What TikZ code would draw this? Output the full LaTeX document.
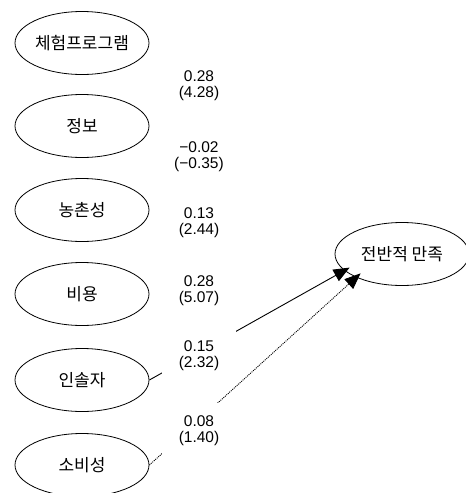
\documentclass[tikz,border=0pt]{standalone}
\usepackage{fontspec}
\setmainfont{Noto Sans CJK KR}
\newfontfamily\numfont{Liberation Sans}
\usetikzlibrary{shapes.geometric,arrows.meta}

\begin{document}
\begin{tikzpicture}[x=1pt,y=-1pt,
        factor/.style={ellipse,draw,line width=0.8pt,minimum width=134pt,minimum height=63pt,inner sep=0pt,font=\fontsize{17}{19}\selectfont},
        coef/.style={fill=white,align=center,inner sep=0pt,minimum width=74pt,minimum height=56pt,font=\numfont\fontsize{15.5}{16}\selectfont},
        link/.style={line width=0.9pt,shorten >=-6pt,-{Triangle[length=16pt,width=13pt]}}]
    \useasboundingbox (0,0) rectangle (466,493);
    % Factor ellipses
    \foreach \txt/\y [count=\i] in {체험프로그램/43,정보/126,농촌성/210,비용/294,인솔자/380,소비성/465} {\node[factor] (F\i) at (82,\y) {\txt};}
    % Outcome ellipse
    \node[factor] (Y) at (402,254) {전반적 만족};
    % Paths to outcome
    \draw[link] (F5.east) -- (Y.196);
    \draw[link,dash pattern=on 1pt off 1pt] (F6.east) -- (Y.207);
    % Coefficients with t values
    \foreach \y/\b/\t [count=\i] in {86/0.28/4.28,157/−0.02/−0.35,223/0.13/2.44,291/0.28/5.07,356/0.15/2.32,431/0.08/1.40} {\node[coef] (C\i) at (199,\y) {\b\\(\t)};}
\end{tikzpicture}
\end{document}
